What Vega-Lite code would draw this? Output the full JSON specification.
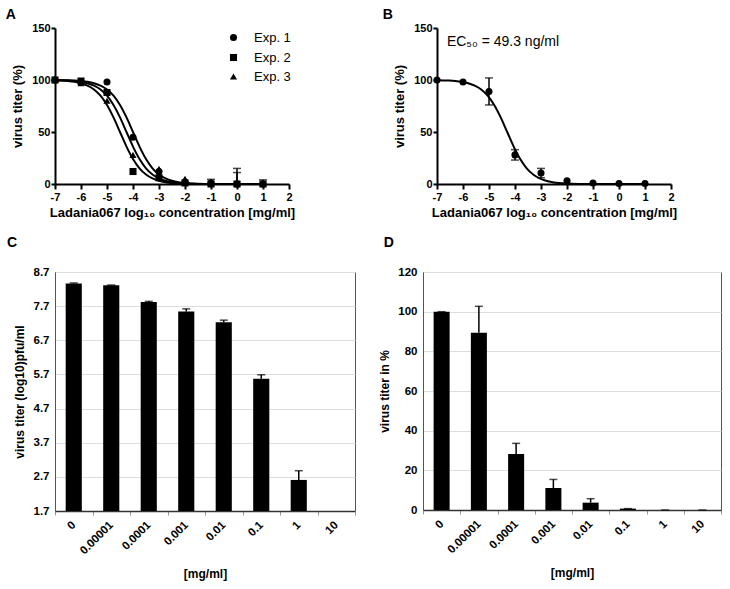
{
  "$schema": "https://vega.github.io/schema/vega-lite/v6.json",
  "padding": {"left": 5, "top": 8, "right": 5, "bottom": 5},
  "config": {
    "font": "Liberation Sans",
    "view": {"stroke": null},
    "axis": {"grid": false, "domainColor": "black", "domainWidth": 2, "tickColor": "black", "tickWidth": 2, "labelFontSize": 11, "labelFontWeight": "bold", "labelColor": "black", "titleFontSize": 13, "titleFontWeight": "bold", "titleColor": "black", "labelFont": "Liberation Sans", "titleFont": "Liberation Sans", "labelFlush": false, "labelOverlap": false, "tickCount": 30},
    "title": {"fontSize": 14, "fontWeight": "bold", "font": "Liberation Sans", "anchor": "start", "frame": "bounds", "color": "black"}
  },
  "datasets": {
    "curvesA": [
      {"curve": "1", "x": -7, "y": 99.9}, {"curve": "1", "x": -6.75, "y": 99.82}, {"curve": "1", "x": -6.5, "y": 99.68}, {"curve": "1", "x": -6.25, "y": 99.44}, {"curve": "1", "x": -6, "y": 99.01}, {"curve": "1", "x": -5.75, "y": 98.25}, {"curve": "1", "x": -5.5, "y": 96.94}, {"curve": "1", "x": -5.25, "y": 94.68}, {"curve": "1", "x": -5, "y": 90.91}, {"curve": "1", "x": -4.75, "y": 84.9}, {"curve": "1", "x": -4.5, "y": 75.97}, {"curve": "1", "x": -4.25, "y": 64.01}, {"curve": "1", "x": -4, "y": 50}, {"curve": "1", "x": -3.75, "y": 35.99}, {"curve": "1", "x": -3.5, "y": 24.03}, {"curve": "1", "x": -3.25, "y": 15.1}, {"curve": "1", "x": -3, "y": 9.09}, {"curve": "1", "x": -2.75, "y": 5.32}, {"curve": "1", "x": -2.5, "y": 3.06}, {"curve": "1", "x": -2.25, "y": 1.75}, {"curve": "1", "x": -2, "y": 0.99}, {"curve": "1", "x": -1.75, "y": 0.56}, {"curve": "1", "x": -1.5, "y": 0.32}, {"curve": "1", "x": -1, "y": 0.1}, {"curve": "1", "x": 1, "y": 0},
      {"curve": "2", "x": -7, "y": 99.82}, {"curve": "2", "x": -6.75, "y": 99.68}, {"curve": "2", "x": -6.5, "y": 99.44}, {"curve": "2", "x": -6.25, "y": 99.01}, {"curve": "2", "x": -6, "y": 98.25}, {"curve": "2", "x": -5.75, "y": 96.94}, {"curve": "2", "x": -5.5, "y": 94.68}, {"curve": "2", "x": -5.25, "y": 90.91}, {"curve": "2", "x": -5, "y": 84.9}, {"curve": "2", "x": -4.75, "y": 75.97}, {"curve": "2", "x": -4.5, "y": 64.01}, {"curve": "2", "x": -4.25, "y": 50}, {"curve": "2", "x": -4, "y": 35.99}, {"curve": "2", "x": -3.75, "y": 24.03}, {"curve": "2", "x": -3.5, "y": 15.1}, {"curve": "2", "x": -3.25, "y": 9.09}, {"curve": "2", "x": -3, "y": 5.32}, {"curve": "2", "x": -2.75, "y": 3.06}, {"curve": "2", "x": -2.5, "y": 1.75}, {"curve": "2", "x": -2.25, "y": 0.99}, {"curve": "2", "x": -2, "y": 0.56}, {"curve": "2", "x": -1.75, "y": 0.32}, {"curve": "2", "x": -1.25, "y": 0.1}, {"curve": "2", "x": 1, "y": 0},
      {"curve": "3", "x": -7, "y": 99.68}, {"curve": "3", "x": -6.75, "y": 99.44}, {"curve": "3", "x": -6.5, "y": 99.01}, {"curve": "3", "x": -6.25, "y": 98.25}, {"curve": "3", "x": -6, "y": 96.94}, {"curve": "3", "x": -5.75, "y": 94.68}, {"curve": "3", "x": -5.5, "y": 90.91}, {"curve": "3", "x": -5.25, "y": 84.9}, {"curve": "3", "x": -5, "y": 75.97}, {"curve": "3", "x": -4.75, "y": 64.01}, {"curve": "3", "x": -4.5, "y": 50}, {"curve": "3", "x": -4.25, "y": 35.99}, {"curve": "3", "x": -4, "y": 24.03}, {"curve": "3", "x": -3.75, "y": 15.1}, {"curve": "3", "x": -3.5, "y": 9.09}, {"curve": "3", "x": -3.25, "y": 5.32}, {"curve": "3", "x": -3, "y": 3.06}, {"curve": "3", "x": -2.75, "y": 1.75}, {"curve": "3", "x": -2.5, "y": 0.99}, {"curve": "3", "x": -2.25, "y": 0.56}, {"curve": "3", "x": -2, "y": 0.32}, {"curve": "3", "x": -1.5, "y": 0.1}, {"curve": "3", "x": 1, "y": 0}
    ],
    "pointsA": [
      {"exp": "Exp. 1", "x": -7, "y": 100}, {"exp": "Exp. 1", "x": -6, "y": 98}, {"exp": "Exp. 1", "x": -5, "y": 98}, {"exp": "Exp. 1", "x": -4, "y": 45}, {"exp": "Exp. 1", "x": -3, "y": 12}, {"exp": "Exp. 1", "x": -2, "y": 2}, {"exp": "Exp. 1", "x": -1, "y": 1}, {"exp": "Exp. 1", "x": 0, "y": 0}, {"exp": "Exp. 1", "x": 1, "y": 0},
      {"exp": "Exp. 2", "x": -7, "y": 100}, {"exp": "Exp. 2", "x": -6, "y": 99}, {"exp": "Exp. 2", "x": -5, "y": 88}, {"exp": "Exp. 2", "x": -4, "y": 12}, {"exp": "Exp. 2", "x": -3, "y": 6}, {"exp": "Exp. 2", "x": -2, "y": 1}, {"exp": "Exp. 2", "x": -1, "y": 0}, {"exp": "Exp. 2", "x": 0, "y": 0}, {"exp": "Exp. 2", "x": 1, "y": 0},
      {"exp": "Exp. 3", "x": -7, "y": 100}, {"exp": "Exp. 3", "x": -6, "y": 97}, {"exp": "Exp. 3", "x": -5, "y": 80}, {"exp": "Exp. 3", "x": -4, "y": 28}, {"exp": "Exp. 3", "x": -3, "y": 14.5}, {"exp": "Exp. 3", "x": -2, "y": 5}, {"exp": "Exp. 3", "x": -1, "y": 1}, {"exp": "Exp. 3", "x": 0, "y": 0}, {"exp": "Exp. 3", "x": 1, "y": 0}
    ],
    "errA": [
      {"x": -1, "lo": 0, "hi": 4.5}, {"x": 0, "lo": 0, "hi": 15}, {"x": 0, "lo": 0, "hi": 11}, {"x": 1, "lo": 0, "hi": 4}
    ],
    "curveB": [
      {"x": -7, "y": 99.8}, {"x": -6.55, "y": 99.44}, {"x": -6.3, "y": 99.01}, {"x": -6.05, "y": 98.25}, {"x": -5.8, "y": 96.94}, {"x": -5.55, "y": 94.68}, {"x": -5.3, "y": 90.91}, {"x": -5.05, "y": 84.9}, {"x": -4.8, "y": 75.97}, {"x": -4.55, "y": 64.01}, {"x": -4.3, "y": 50}, {"x": -4.05, "y": 35.99}, {"x": -3.8, "y": 24.03}, {"x": -3.55, "y": 15.1}, {"x": -3.3, "y": 9.09}, {"x": -3.05, "y": 5.32}, {"x": -2.8, "y": 3.06}, {"x": -2.55, "y": 1.75}, {"x": -2.3, "y": 0.99}, {"x": -2.05, "y": 0.56}, {"x": -1.8, "y": 0.32}, {"x": -1.3, "y": 0.1}, {"x": 1, "y": 0}
    ],
    "pointsB": [
      {"x": -7, "y": 100}, {"x": -6, "y": 98}, {"x": -5, "y": 89}, {"x": -4, "y": 28}, {"x": -3, "y": 10.5}, {"x": -2, "y": 3}, {"x": -1, "y": 1}, {"x": 0, "y": 0.5}, {"x": 1, "y": 0.5}
    ],
    "errB": [
      {"x": -5, "lo": 76, "hi": 102}, {"x": -4, "lo": 23, "hi": 33}, {"x": -3, "lo": 6, "hi": 15}
    ],
    "ec50": [{"x": -6.62, "y": 137, "label": "EC₅₀ = 49.3 ng/ml"}],
    "barsC": [
      {"conc": "0", "v": 8.36, "hi": 8.38}, {"conc": "0.00001", "v": 8.31, "hi": 8.32}, {"conc": "0.0001", "v": 7.82, "hi": 7.84}, {"conc": "0.001", "v": 7.54, "hi": 7.62}, {"conc": "0.01", "v": 7.23, "hi": 7.29}, {"conc": "0.1", "v": 5.57, "hi": 5.69}, {"conc": "1", "v": 2.61, "hi": 2.88}
    ],
    "barsD": [
      {"conc": "0", "v": 100, "hi": 100}, {"conc": "0.00001", "v": 89.4, "hi": 102.7}, {"conc": "0.0001", "v": 28.2, "hi": 33.6}, {"conc": "0.001", "v": 11.1, "hi": 15.4}, {"conc": "0.01", "v": 3.7, "hi": 5.7}, {"conc": "0.1", "v": 0.7, "hi": 0.7}, {"conc": "1", "v": 0, "hi": 0}, {"conc": "10", "v": 0, "hi": 0}
    ]
  },
  "spacing": 16,
  "vconcat": [
    {
      "spacing": 87,
      "hconcat": [
        {
          "width": 234, "height": 156,
          "title": {"text": "A", "dx": -6, "offset": 0},
          "layer": [
            {
              "data": {"name": "curvesA"},
              "mark": {"type": "line", "color": "black", "strokeWidth": 2, "interpolate": "monotone"},
              "encoding": {
                "x": {"field": "x", "type": "quantitative", "scale": {"domain": [-7, 2], "nice": false}, "axis": {"values": [-7, -6, -5, -4, -3, -2, -1, 0, 1, 2], "labelExpr": "'' + datum.value", "tickCount": 30, "labelOverlap": false, "title": "Ladania067 log₁₀ concentration [mg/ml]", "tickSize": 5, "labelPadding": 2, "titlePadding": 4}},
                "y": {"field": "y", "type": "quantitative", "scale": {"domain": [0, 150], "nice": false}, "axis": {"values": [0, 50, 100, 150], "labelExpr": "'' + datum.value", "tickCount": 30, "labelOverlap": false, "title": "virus titer (%)", "tickSize": 4, "labelPadding": 1, "titlePadding": 7}},
                "detail": {"field": "curve"}
              }
            },
            {
              "data": {"name": "errA"},
              "mark": {"type": "rule", "color": "black", "strokeWidth": 1.5},
              "encoding": {"x": {"field": "x", "type": "quantitative"}, "y": {"field": "lo", "type": "quantitative"}, "y2": {"field": "hi"}}
            },
            {
              "data": {"name": "errA"},
              "mark": {"type": "tick", "orient": "horizontal", "color": "black", "size": 8, "thickness": 1.5},
              "encoding": {"x": {"field": "x", "type": "quantitative"}, "y": {"field": "hi", "type": "quantitative"}}
            },
            {
              "data": {"name": "pointsA"},
              "mark": {"type": "point", "filled": true, "color": "black", "size": 50, "opacity": 1},
              "encoding": {
                "x": {"field": "x", "type": "quantitative"},
                "y": {"field": "y", "type": "quantitative"},
                "shape": {"field": "exp", "type": "nominal", "scale": {"domain": ["Exp. 1", "Exp. 2", "Exp. 3"], "range": ["circle", "square", "triangle-up"]},
                  "legend": {"title": null, "orient": "none", "legendX": 172, "legendY": 3, "labelFontSize": 13, "labelFont": "Liberation Sans", "labelColor": "black", "symbolFillColor": "black", "symbolStrokeColor": "black", "symbolSize": 50, "rowPadding": 5, "labelOffset": 14, "padding": 0}}
              }
            }
          ]
        },
        {
          "width": 234, "height": 156,
          "title": {"text": "B", "dx": -11, "offset": 0},
          "layer": [
            {
              "data": {"name": "curveB"},
              "mark": {"type": "line", "color": "black", "strokeWidth": 2, "interpolate": "monotone"},
              "encoding": {
                "x": {"field": "x", "type": "quantitative", "scale": {"domain": [-7, 2], "nice": false}, "axis": {"values": [-7, -6, -5, -4, -3, -2, -1, 0, 1, 2], "labelExpr": "'' + datum.value", "tickCount": 30, "labelOverlap": false, "title": "Ladania067 log₁₀ concentration [mg/ml]", "tickSize": 5, "labelPadding": 2, "titlePadding": 4}},
                "y": {"field": "y", "type": "quantitative", "scale": {"domain": [0, 150], "nice": false}, "axis": {"values": [0, 50, 100, 150], "labelExpr": "'' + datum.value", "tickCount": 30, "labelOverlap": false, "title": "virus titer (%)", "tickSize": 4, "labelPadding": 1, "titlePadding": 7}}
              }
            },
            {
              "data": {"name": "errB"},
              "mark": {"type": "rule", "color": "black", "strokeWidth": 1.5},
              "encoding": {"x": {"field": "x", "type": "quantitative"}, "y": {"field": "lo", "type": "quantitative"}, "y2": {"field": "hi"}}
            },
            {
              "data": {"name": "errB"},
              "mark": {"type": "tick", "orient": "horizontal", "color": "black", "size": 8, "thickness": 1.5},
              "encoding": {"x": {"field": "x", "type": "quantitative"}, "y": {"field": "hi", "type": "quantitative"}}
            },
            {
              "data": {"name": "errB"},
              "mark": {"type": "tick", "orient": "horizontal", "color": "black", "size": 8, "thickness": 1.5},
              "encoding": {"x": {"field": "x", "type": "quantitative"}, "y": {"field": "lo", "type": "quantitative"}}
            },
            {
              "data": {"name": "pointsB"},
              "mark": {"type": "point", "filled": true, "color": "black", "size": 50, "opacity": 1, "shape": "circle"},
              "encoding": {"x": {"field": "x", "type": "quantitative"}, "y": {"field": "y", "type": "quantitative"}}
            },
            {
              "data": {"name": "ec50"},
              "mark": {"type": "text", "align": "left", "baseline": "middle", "fontSize": 14, "font": "Liberation Sans", "color": "black"},
              "encoding": {"x": {"field": "x", "type": "quantitative"}, "y": {"field": "y", "type": "quantitative"}, "text": {"field": "label"}}
            }
          ]
        }
      ]
    },
    {
      "spacing": 22,
      "hconcat": [
        {
          "width": 300, "height": 239,
          "view": {"stroke": "#555", "strokeWidth": 1},
          "title": {"text": "C", "dx": -6, "offset": 16},
          "layer": [
            {
              "data": {"name": "barsC"},
              "mark": {"type": "bar", "color": "black", "width": {"band": 0.43}},
              "encoding": {
                "x": {"field": "conc", "type": "nominal", "sort": null, "scale": {"type": "band", "domain": ["0", "0.00001", "0.0001", "0.001", "0.01", "0.1", "1", "10"], "paddingInner": 0, "paddingOuter": 0},
                  "axis": {"title": "[mg/ml]", "labelOverlap": false, "labelAngle": -45, "labelAlign": "right", "labelBaseline": "middle", "tickBand": "extent", "tickColor": "#999", "tickWidth": 1, "tickSize": 4, "domainColor": "#333", "domainWidth": 1.5, "labelPadding": 8, "titlePadding": 12, "labelFontSize": 11.5, "titleFontSize": 12}},
                "y": {"field": "v", "type": "quantitative", "scale": {"domain": [1.7, 8.7], "nice": false, "zero": false},
                  "axis": {"values": [1.7, 2.7, 3.7, 4.7, 5.7, 6.7, 7.7, 8.7], "tickCount": 30, "labelOverlap": false, "format": ".1f", "grid": true, "gridColor": "#ddd", "gridWidth": 1, "ticks": false, "domainColor": "#555", "domainWidth": 1, "labelPadding": 6, "title": "virus titer (log10)pfu/ml", "titlePadding": 7, "labelFontSize": 11.5, "titleFontSize": 12}},
                "y2": {"datum": 1.7}
              }
            },
            {
              "data": {"name": "barsC"},
              "mark": {"type": "rule", "color": "black", "strokeWidth": 1.5},
              "encoding": {"x": {"field": "conc", "type": "nominal", "sort": null}, "y": {"field": "v", "type": "quantitative"}, "y2": {"field": "hi"}}
            },
            {
              "data": {"name": "barsC"},
              "mark": {"type": "tick", "color": "black", "size": 8, "thickness": 1.5},
              "encoding": {"x": {"field": "conc", "type": "nominal", "sort": null}, "y": {"field": "hi", "type": "quantitative"}}
            }
          ]
        },
        {
          "width": 298, "height": 238,
          "view": {"stroke": "#555", "strokeWidth": 1},
          "title": {"text": "D", "dx": 5, "offset": 16},
          "layer": [
            {
              "data": {"name": "barsD"},
              "mark": {"type": "bar", "color": "black", "width": {"band": 0.43}},
              "encoding": {
                "x": {"field": "conc", "type": "nominal", "sort": null, "scale": {"type": "band", "domain": ["0", "0.00001", "0.0001", "0.001", "0.01", "0.1", "1", "10"], "paddingInner": 0, "paddingOuter": 0},
                  "axis": {"title": "[mg/ml]", "labelOverlap": false, "labelAngle": -45, "labelAlign": "right", "labelBaseline": "middle", "tickBand": "extent", "tickColor": "#999", "tickWidth": 1, "tickSize": 4, "domainColor": "#333", "domainWidth": 1.5, "labelPadding": 8, "titlePadding": 12, "labelFontSize": 11.5, "titleFontSize": 12}},
                "y": {"field": "v", "type": "quantitative", "scale": {"domain": [0, 120], "nice": false},
                  "axis": {"values": [0, 20, 40, 60, 80, 100, 120], "tickCount": 30, "labelOverlap": false, "grid": true, "gridColor": "#ddd", "gridWidth": 1, "ticks": false, "domainColor": "#555", "domainWidth": 1, "labelPadding": 6, "title": "virus titer in %", "titlePadding": 6, "labelFontSize": 11.5, "titleFontSize": 12}}
              }
            },
            {
              "data": {"name": "barsD"},
              "mark": {"type": "rule", "color": "black", "strokeWidth": 1.5},
              "encoding": {"x": {"field": "conc", "type": "nominal", "sort": null}, "y": {"field": "v", "type": "quantitative"}, "y2": {"field": "hi"}}
            },
            {
              "data": {"name": "barsD"},
              "mark": {"type": "tick", "color": "black", "size": 8, "thickness": 1.5},
              "encoding": {"x": {"field": "conc", "type": "nominal", "sort": null}, "y": {"field": "hi", "type": "quantitative"}}
            }
          ]
        }
      ]
    }
  ]
}
